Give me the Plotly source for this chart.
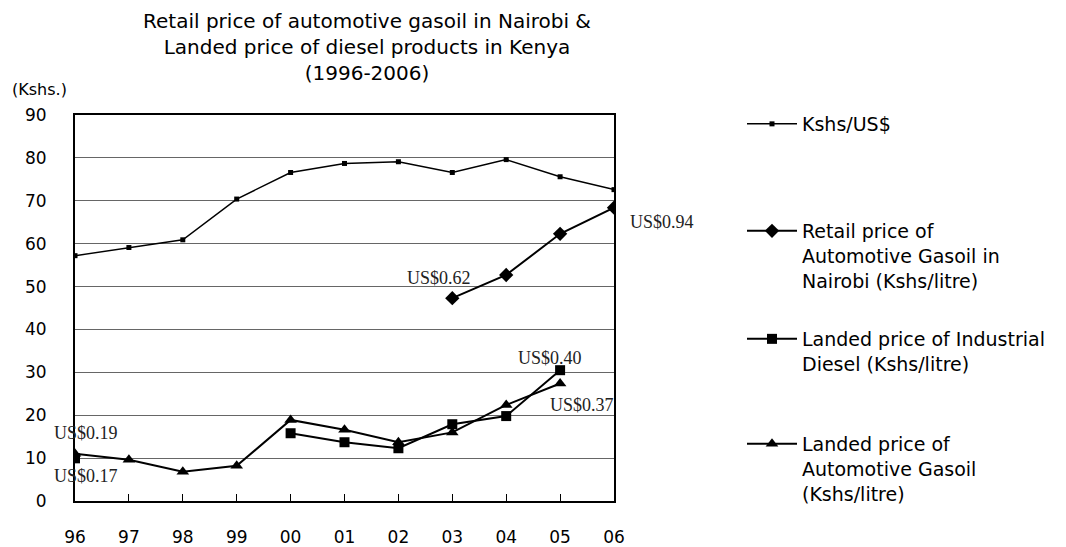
import plotly.graph_objects as go

years = ["96", "97", "98", "99", "00", "01", "02", "03", "04", "05", "06"]
kshs_per_usd = [57.2, 59.1, 60.9, 70.4, 76.6, 78.7, 79.1, 76.6, 79.6, 75.6, 72.6]
retail_gasoil = [None, None, None, None, None, None, None, 47.3, 52.7, 62.3, 68.4]
landed_industrial = [9.95, None, None, None, 15.8, 13.7, 12.3, 17.9, 19.8, 30.5, None]
landed_gasoil = [11.0, 9.6, 6.8, 8.2, 18.9, 16.6, 13.7, 16.0, 22.4, 27.4, None]

series_names = [
    "Kshs/US$",
    "Retail price of<br>Automotive Gasoil in<br>Nairobi (Kshs/litre)",
    "Landed price of Industrial<br>Diesel (Kshs/litre)",
    "Landed price of<br>Automotive Gasoil<br>(Kshs/litre)",
]

# US$ equivalents shown next to selected points: (series, year, text, xshift, yshift)
usd_labels = [
    ("gasoil", "96", "US$0.19", 11, 21),
    ("industrial", "96", "US$0.17", 11, -18),
    ("retail", "03", "US$0.62", -13, 20),
    ("retail", "06", "US$0.94", 48, -14),
    ("industrial", "05", "US$0.40", -10, 12),
    ("gasoil", "05", "US$0.37", 22, -22),
]

FONT = "DejaVu Sans"
fig = go.Figure()

fig.add_trace(go.Scatter(
    x=years, y=kshs_per_usd, name=series_names[0], mode="lines+markers",
    line=dict(color="black", width=1.5),
    marker=dict(symbol="square", size=5, color="black"),
    legend="legend",
))
fig.add_trace(go.Scatter(
    x=years, y=retail_gasoil, name=series_names[1], mode="lines+markers",
    line=dict(color="black", width=2),
    marker=dict(symbol="diamond", size=11, color="black"),
    legend="legend2",
))
fig.add_trace(go.Scatter(
    x=years, y=landed_industrial, name=series_names[2], mode="lines+markers",
    line=dict(color="black", width=2),
    marker=dict(symbol="square", size=10, color="black"),
    connectgaps=False,
    legend="legend3",
))
fig.add_trace(go.Scatter(
    x=years, y=landed_gasoil, name=series_names[3], mode="lines+markers",
    line=dict(color="black", width=2),
    marker=dict(symbol="triangle-up", size=11, color="black"),
    legend="legend4",
))

series_map = {"retail": retail_gasoil, "industrial": landed_industrial, "gasoil": landed_gasoil}
for key, yr, txt, dx, dy in usd_labels:
    idx = years.index(yr)
    val = series_map[key][idx]
    fig.add_annotation(
        x=idx, y=val, xref="x", yref="y", text=txt, showarrow=False,
        xshift=dx, yshift=dy,
        font=dict(family="Liberation Serif", size=18, color="#222"),
    )

fig.add_annotation(
    x=-0.1206, y=1.0648, xref="paper", yref="paper", text="(Kshs.)",
    showarrow=False, xanchor="left", yanchor="middle",
    font=dict(family=FONT, size=16, color="black"),
)

legend_common = dict(
    xanchor="left", yanchor="top", valign="top",
    bgcolor="rgba(0,0,0,0)", borderwidth=0,
    font=dict(family=FONT, size=19, color="black"),
    itemwidth=50, tracegroupgap=0,
)
lx = (742 - 75) / 539
def ly(py):
    return (501 - (py - 19)) / 386

fig.update_layout(
    width=1066, height=547,
    margin=dict(l=75, r=452, t=115, b=46, autoexpand=False),
    paper_bgcolor="white", plot_bgcolor="white",
    title=dict(
        text="Retail price of automotive gasoil in Nairobi &<br>Landed price of diesel products in Kenya<br>(1996-2006)",
        x=367 / 1066, xanchor="center", xref="container",
        y=1 - 28 / 547, yanchor="top", yref="container",
        font=dict(family=FONT, size=20, color="black"),
    ),
    showlegend=True,
    legend=dict(x=lx, y=ly(124), **legend_common),
    legend2=dict(x=lx, y=ly(231), **legend_common),
    legend3=dict(x=lx, y=ly(339), **legend_common),
    legend4=dict(x=lx, y=ly(444), **legend_common),
    xaxis=dict(
        type="category", range=[0, 10],
        showline=True, linecolor="black", linewidth=2, mirror=True,
        ticks="inside", ticklen=7, tickcolor="black", tickwidth=1,
        showgrid=False, zeroline=False, automargin=False,
        tickfont=dict(family=FONT, size=17, color="black"),
        ticklabelstandoff=20,
    ),
    yaxis=dict(
        range=[0, 90], dtick=10, tick0=0,
        showline=True, linecolor="black", linewidth=2, mirror=True,
        showgrid=True, gridcolor="#666", gridwidth=1,
        ticks="", zeroline=False, automargin=False,
        tickfont=dict(family=FONT, size=17, color="black"),
        ticklabelstandoff=23,
    ),
)

fig.write_html("out.html", config={"displayModeBar": False},
               post_script="document.body.style.margin='0';")
